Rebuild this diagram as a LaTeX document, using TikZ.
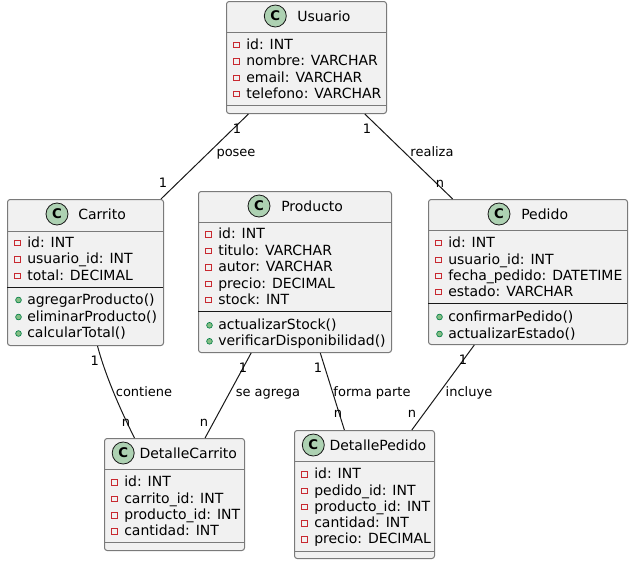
\documentclass[tikz,border=0pt]{standalone}
\usepackage{fontspec}
\setmainfont{DejaVu Sans}
\definecolor{boxfill}{HTML}{F1F1F1}
\definecolor{boxline}{HTML}{7A7A7A}
\definecolor{privred}{HTML}{C82930}
\definecolor{pubgreen}{HTML}{038048}
\definecolor{pubfill}{HTML}{84BE84}
\definecolor{iconfill}{HTML}{ADD1B2}
\definecolor{iconline}{HTML}{181818}
\definecolor{connline}{HTML}{181818}
\newcommand\prow[4]{\node[privmark] (#1m) at (#2+10.5,#3-4) {};\node[rowtext] (#1) at (#2+20,#3) {#4};}
\newcommand\mrow[4]{\node[pubmark] (#1m) at (#2+11.5,#3-4) {};\node[rowtext] (#1) at (#2+20,#3) {#4};}
\newcommand\ctitle[5]{\node[cicon] (#1i) at (#2,#4-5) {C};\node[titletext] (#1t) at (#3,#4) {#5};}
\begin{document}
\begin{tikzpicture}[x=0.75pt,y=-0.75pt,
  classbox/.style={draw=boxline, fill=boxfill, line width=0.75pt, rounded corners=2pt, anchor=north west, inner sep=0pt},
  hsep/.style={draw=boxline, line width=0.75pt},
  msep/.style={draw=black!90, line width=0.75pt},
  privmark/.style={draw=privred, rectangle, minimum size=4.2pt, inner sep=0pt, line width=0.6pt},
  pubmark/.style={draw=pubgreen, fill=pubfill, circle, minimum size=4.3pt, inner sep=0pt, line width=0.5pt},
  rowtext/.style={anchor=base west, inner sep=0pt, font=\fontsize{10.5}{12}\selectfont},
  titletext/.style={anchor=base west, inner sep=0pt, font=\fontsize{10.5}{12}\selectfont},
  cicon/.style={circle, draw=iconline, fill=iconfill, minimum size=16.5pt, inner sep=0pt, line width=0.6pt, font=\fontsize{10}{10}\selectfont\bfseries},
  lbl/.style={anchor=base, inner sep=0pt, font=\fontsize{9.75}{11}\selectfont},
  conn/.style={draw=connline, line width=0.75pt}]
\useasboundingbox (0,0) rectangle (632,565);

% ---------- Usuario ----------
\node[classbox, minimum width=120pt, minimum height=84pt] (usuario) at (226,1) {};
\draw[hsep] (226,32) -- (386,32);
\draw[hsep] (226,105) -- (386,105);
\ctitle{usu}{275.3}{297}{21}{Usuario}
\prow{u1}{226}{49}{id: INT}
\prow{u2}{226}{65.5}{nombre: VARCHAR}
\prow{u3}{226}{82}{email: VARCHAR}
\prow{u4}{226}{98}{telefono: VARCHAR}

% ---------- Carrito ----------
\node[classbox, minimum width=117pt, minimum height=109.5pt] (carrito) at (7,199) {};
\draw[hsep] (7,231) -- (163,231);
\draw[msep] (7,287) -- (163,287);
\ctitle{car}{57}{78}{219}{Carrito}
\prow{c1}{7}{247}{id: INT}
\prow{c2}{7}{263.5}{usuario\_id: INT}
\prow{c3}{7}{280}{total: DECIMAL}
\mrow{c4}{7}{304}{agregarProducto()}
\mrow{c5}{7}{321}{eliminarProducto()}
\mrow{c6}{7}{337.5}{calcularTotal()}

% ---------- Producto ----------
\node[classbox, minimum width=144.75pt, minimum height=120.75pt] (producto) at (198,191) {};
\draw[hsep] (198,222) -- (391,222);
\draw[msep] (198,311) -- (391,311);
\ctitle{pro}{259}{281}{211}{Producto}
\prow{p1}{198}{238.5}{id: INT}
\prow{p2}{198}{255}{titulo: VARCHAR}
\prow{p3}{198}{271.5}{autor: VARCHAR}
\prow{p4}{198}{288}{precio: DECIMAL}
\prow{p5}{198}{304}{stock: INT}
\mrow{p6}{198}{329.3}{actualizarStock()}
\mrow{p7}{198}{345.3}{verificarDisponibilidad()}

% ---------- Pedido ----------
\node[classbox, minimum width=149.25pt, minimum height=108.75pt] (pedido) at (428,199) {};
\draw[hsep] (428,230) -- (627,230);
\draw[msep] (428,303) -- (627,303);
\ctitle{ped}{499}{521}{219}{Pedido}
\prow{e1}{428}{247}{id: INT}
\prow{e2}{428}{264}{usuario\_id: INT}
\prow{e3}{428}{280}{fecha\_pedido: DATETIME}
\prow{e4}{428}{296}{estado: VARCHAR}
\mrow{e5}{428}{321}{confirmarPedido()}
\mrow{e6}{428}{338}{actualizarEstado()}

% ---------- DetalleCarrito ----------
\node[classbox, minimum width=105pt, minimum height=84pt] (detcarrito) at (104,438) {};
\draw[hsep] (104,469) -- (244,469);
\draw[hsep] (104,542) -- (244,542);
\ctitle{dca}{123.2}{139.3}{458}{DetalleCarrito}
\prow{d1}{104}{486.5}{id: INT}
\prow{d2}{104}{503}{carrito\_id: INT}
\prow{d3}{104}{519.5}{producto\_id: INT}
\prow{d4}{104}{535.5}{cantidad: INT}

% ---------- DetallePedido ----------
\node[classbox, minimum width=105pt, minimum height=96pt] (detpedido) at (294,430) {};
\draw[hsep] (294,461) -- (434,461);
\draw[hsep] (294,551) -- (434,551);
\ctitle{dpe}{313.3}{329.3}{450}{DetallePedido}
\prow{f1}{294}{478.5}{id: INT}
\prow{f2}{294}{495}{pedido\_id: INT}
\prow{f3}{294}{511}{producto\_id: INT}
\prow{f4}{294}{527.5}{cantidad: INT}
\prow{f5}{294}{543.5}{precio: DECIMAL}

% ---------- connectors ----------
\draw[conn] (usuario) -- (carrito);
\draw[conn] (usuario) -- (pedido);
\draw[conn] ([xshift=9pt]carrito.south) .. controls +(6pt,-22.5pt) and +(-10.5pt,21pt) .. ([xshift=-30pt]detcarrito.north);
\draw[conn] (producto) -- (detcarrito);
\draw[conn] (producto) -- (detpedido);
\draw[conn] (pedido) -- (detpedido);

% ---------- labels ----------
\node[lbl] (l1) at (237,133) {1};
\node[lbl] (l2) at (236,156) {posee};
\node[lbl] (l3) at (163,187.5) {1};
\node[lbl] (l4) at (367,133) {1};
\node[lbl] (l5) at (432,156.5) {realiza};
\node[lbl] (l6) at (440,187.3) {n};
\node[lbl] (l7) at (94.7,365) {1};
\node[lbl] (l8) at (144,396) {contiene};
\node[lbl] (l9) at (126,426) {n};
\node[lbl] (l10) at (243,372.7) {1};
\node[lbl] (l11) at (268,396) {se agrega};
\node[lbl] (l12) at (204,426) {n};
\node[lbl] (l13) at (318,372.7) {1};
\node[lbl] (l14) at (372,396) {forma parte};
\node[lbl] (l15) at (338,417) {n};
\node[lbl] (l16) at (463,364.3) {1};
\node[lbl] (l17) at (469,396) {incluye};
\node[lbl] (l18) at (412,417) {n};
\end{tikzpicture}
\end{document}
